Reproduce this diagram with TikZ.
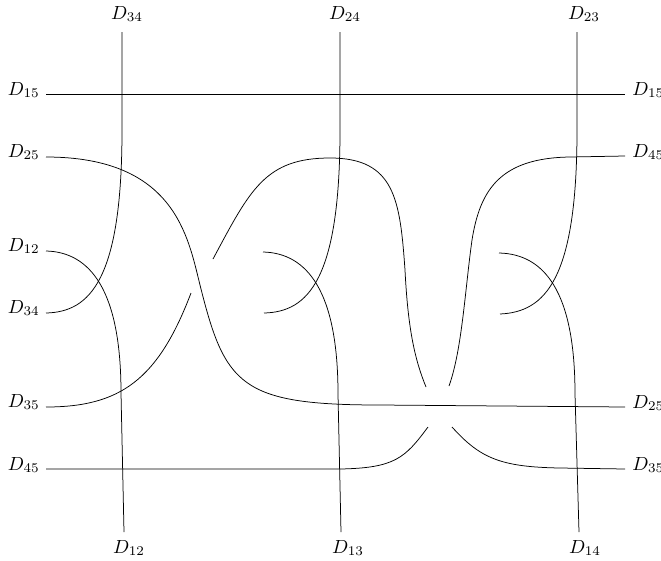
\documentclass[tikz,border=0pt]{standalone}
\begin{document}
\begin{tikzpicture}[x=1pt,y=-1pt,
  strand/.style={line width=0.75pt,line cap=butt},
  lab/.style={scale=1.9,inner sep=0pt}]
\useasboundingbox (0,0) rectangle (661,560);
% labels
\node[lab,anchor=base] (t34) at (127,19) {$D_{34}$};
\node[lab,anchor=base] (t24) at (345,19) {$D_{24}$};
\node[lab,anchor=base] (t23) at (584,19) {$D_{23}$};
\node[lab,anchor=base] (b12) at (129,553) {$D_{12}$};
\node[lab,anchor=base] (b13) at (348,553) {$D_{13}$};
\node[lab,anchor=base] (b14) at (585,553) {$D_{14}$};
\node[lab,anchor=base east] (l15) at (40,95) {$D_{15}$};
\node[lab,anchor=base east] (l25) at (40,157) {$D_{25}$};
\node[lab,anchor=base east] (l12) at (40,251) {$D_{12}$};
\node[lab,anchor=base east] (l34) at (40,313) {$D_{34}$};
\node[lab,anchor=base east] (l35) at (40,407) {$D_{35}$};
\node[lab,anchor=base east] (l45) at (40,470) {$D_{45}$};
\node[lab,anchor=base west] (r15) at (632,95) {$D_{15}$};
\node[lab,anchor=base west] (r45) at (632,157) {$D_{45}$};
\node[lab,anchor=base west] (r25) at (632,408) {$D_{25}$};
\node[lab,anchor=base west] (r35) at (632,470) {$D_{35}$};
% strand end points
\coordinate (L15) at (46,94);   \coordinate (R15) at (625,94);
\coordinate (L25) at (46,157);  \coordinate (R25) at (625,407);
\coordinate (L12) at (46,251);  \coordinate (L34) at (46,313);
\coordinate (L35) at (46,407);  \coordinate (R35) at (625,469);
\coordinate (L45) at (46,469);  \coordinate (R45) at (625,156);
\coordinate (T34) at (122,32);  \coordinate (T24) at (340,32);  \coordinate (T23) at (577,32);
\coordinate (B12) at (124,532); \coordinate (B13) at (341,532); \coordinate (B14) at (579,532);
% D15
\draw[strand] (L15) -- (R15);
% D25 (over)
\draw[strand] (L25) .. controls (175,157) and (188,237) .. (200,285)
  .. controls (225,385) and (240,405) .. (380,405) -- (R25);
% D35
\draw[strand] (L35) .. controls (120,407) and (158,380) .. (191,293);
\draw[strand] (213,259) .. controls (250,190) and (265,158) .. (330,158)
  .. controls (395,158) and (400,200) .. (405,270)
  .. controls (408,330) and (415,360) .. (426,387);
\draw[strand] (452,427) .. controls (480,458) and (500,467) .. (560,468) -- (R35);
% D45
\draw[strand] (R45) -- (570,157) .. controls (500,158) and (480,190) .. (472,240)
  .. controls (465,290) and (462,350) .. (449,386);
\draw[strand] (428,427) .. controls (405,458) and (395,468) .. (340,469) -- (L45);
% vertical strands from top
\draw[strand] (T34) -- (122,130) .. controls (122,280) and (90,312) .. (L34);
\draw[strand] (T24) -- (340,130) .. controls (340,280) and (308,312) .. (264,313);
\draw[strand] (T23) -- (577,130) .. controls (577,280) and (545,312) .. (500,314);
% vertical strands to bottom
\draw[strand] (L12) .. controls (90,252) and (121,290) .. (121,393) -- (B12);
\draw[strand] (263,252) .. controls (307,253) and (338,291) .. (338,394) -- (B13);
\draw[strand] (499,253) .. controls (544,254) and (575,291) .. (575,394) -- (B14);
\end{tikzpicture}
\end{document}
